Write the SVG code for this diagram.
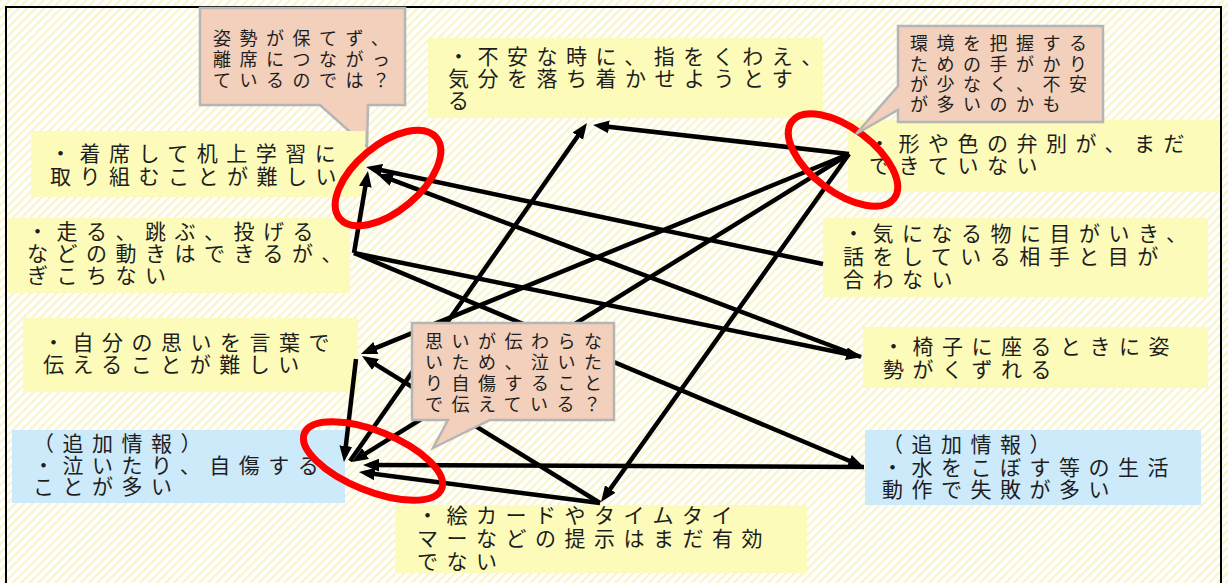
<svg xmlns="http://www.w3.org/2000/svg" width="1228" height="583" viewBox="0 0 1228 583">
<defs>
<pattern id="hatch" width="6" height="6" patternUnits="userSpaceOnUse" patternTransform="rotate(45)">
<rect width="6" height="6" fill="#ffffff"/>
<rect width="2.2" height="6" fill="#f9f4cb"/>
</pattern>
<marker id="ah" markerUnits="userSpaceOnUse" markerWidth="16" markerHeight="16" viewBox="0 0 10 8" refX="6" refY="4" orient="auto">
<path d="M0,0 L10,4 L0,8 Z" fill="#000"/>
</marker>
<style>
.y{fill:#fdfbb9;}
.b{fill:#cdeafb;}
.co{fill:#f2d0bb;stroke:#b5b5b5;stroke-width:2.5;stroke-linejoin:miter;}
.t{font-family:'Noto Sans CJK JP','Noto Sans CJK SC',sans-serif;font-size:21px;letter-spacing:8.5px;fill:#1e1e1e;}
.ct{font-family:'Noto Sans CJK JP','Noto Sans CJK SC',sans-serif;font-size:18px;letter-spacing:8.5px;fill:#1e1e1e;}
.ln{stroke:#000;stroke-width:4.5;fill:none;marker-end:url(#ah);}
.ring{fill:none;stroke:#ff0000;stroke-width:7;}
</style>
</defs>
<rect x="0" y="0" width="1228" height="583" fill="url(#hatch)"/>
<rect x="6" y="7" width="1215" height="600" fill="none" stroke="#000" stroke-width="2"/>

<g id="callout-posture">
<path class="co" d="M200,8 H405 V105 H368 L367,147 L320,105 H200 Z"/>
<text class="ct" x="213"><tspan x="213" y="45">姿勢が保てず、</tspan><tspan x="213" y="66">離席につながっ</tspan><tspan x="213" y="87">ているのでは？</tspan></text>
</g>

<g id="node-seat">
<rect class="y" x="31" y="131" width="334" height="66"/>
<text class="t"><tspan x="50" y="161">・着席して机上学習に</tspan><tspan x="50" y="184">取り組むことが難しい</tspan></text>
</g>
<g id="node-motion">
<rect class="y" x="8" y="218" width="342" height="75"/>
<text class="t"><tspan x="27" y="239">・走る、跳ぶ、投げる</tspan><tspan x="27" y="261">などの動きはできるが、</tspan><tspan x="27" y="283">ぎこちない</tspan></text>
</g>
<g id="node-anxiety">
<rect class="y" x="428" y="38" width="395" height="80"/>
<text class="t"><tspan x="448" y="64">・不安な時に、指をくわえ、</tspan><tspan x="448" y="86">気分を落ち着かせようとす</tspan><tspan x="448" y="108">る</tspan></text>
</g>
<g id="node-shape">
<rect class="y" x="848" y="120" width="372" height="72"/>
<text class="t"><tspan x="869" y="151">・形や色の弁別が、まだ</tspan><tspan x="869" y="173">できていない</tspan></text>
</g>
<g id="node-attention">
<rect class="y" x="823" y="218" width="385" height="79"/>
<text class="t"><tspan x="843" y="241">・気になる物に目がいき、</tspan><tspan x="843" y="264">話をしている相手と目が</tspan><tspan x="843" y="287">合わない</tspan></text>
</g>
<g id="node-words">
<rect class="y" x="23" y="318" width="335" height="74"/>
<text class="t"><tspan x="43" y="350">・自分の思いを言葉で</tspan><tspan x="43" y="372">伝えることが難しい</tspan></text>
</g>
<g id="node-crying">
<rect class="b" x="12" y="430" width="333" height="73"/>
<text class="t"><tspan x="33" y="451">（追加情報）</tspan><tspan x="33" y="473">・泣いたり、自傷する</tspan><tspan x="33" y="494">ことが多い</tspan></text>
</g>
<g id="node-chair">
<rect class="y" x="863" y="327" width="345" height="61"/>
<text class="t"><tspan x="883" y="354">・椅子に座るときに姿</tspan><tspan x="883" y="377">勢がくずれる</tspan></text>
</g>
<g id="node-water">
<rect class="b" x="865" y="430" width="336" height="75"/>
<text class="t"><tspan x="882" y="452">（追加情報）</tspan><tspan x="882" y="475">・水をこぼす等の生活</tspan><tspan x="882" y="497">動作で失敗が多い</tspan></text>
</g>
<g id="node-cards">
<rect class="y" x="395" y="505" width="412" height="68"/>
<text class="t"><tspan x="417" y="523">・絵カードやタイムタイ</tspan><tspan x="417" y="546">マーなどの提示はまだ有効</tspan><tspan x="417" y="569">でない</tspan></text>
</g>

<g id="connectors">
<line class="ln" x1="823" y1="264" x2="372.3" y2="168.3"/>
<line class="ln" x1="861" y1="357" x2="383" y2="176.3"/>
<line class="ln" x1="354" y1="253" x2="366.9" y2="177.3"/>
<line class="ln" x1="354" y1="253" x2="855.7" y2="355.7"/>
<line class="ln" x1="354" y1="253" x2="858.1" y2="464.5"/>
<line class="ln" x1="849" y1="154" x2="599.4" y2="125.7"/>
<line class="ln" x1="350" y1="461" x2="583.3" y2="128.2"/>
<line class="ln" x1="849" y1="154" x2="366.9" y2="351.6"/>
<line class="ln" x1="849" y1="154" x2="357.4" y2="458.6"/>
<line class="ln" x1="849" y1="154" x2="604.7" y2="496.8"/>
<line class="ln" x1="600" y1="503" x2="367.4" y2="359.4"/>
<line class="ln" x1="600" y1="503" x2="365.3" y2="472.8"/>
<line class="ln" x1="356" y1="359" x2="344.7" y2="455.6"/>
<line class="ln" x1="864" y1="467" x2="369.4" y2="465"/>
</g>

<g id="callout-communication">
<path class="co" d="M412,323 H614 V420 H490 L433,448 L448,420 H412 Z"/>
<text class="ct"><tspan x="425" y="348">思いが伝わらな</tspan><tspan x="425" y="369">いため、泣いた</tspan><tspan x="425" y="390">り自傷すること</tspan><tspan x="425" y="411">で伝えている？</tspan></text>
</g>

<g id="highlights">
<ellipse class="ring" cx="388" cy="178" rx="63" ry="33" transform="rotate(-40 388 178)"/>
<ellipse class="ring" cx="843" cy="160" rx="64" ry="32" transform="rotate(37 843 160)"/>
<ellipse class="ring" cx="373" cy="461" rx="74" ry="30" transform="rotate(22 373 461)"/>
</g>

<g id="callout-environment">
<path class="co" d="M898,26 H1103 V122 H898 V110 L856,134 L898,86 Z"/>
<text class="ct"><tspan x="910" y="50">環境を把握する</tspan><tspan x="910" y="71">ための手がかり</tspan><tspan x="910" y="91">が少なく、不安</tspan><tspan x="910" y="111">が多いのかも</tspan></text>
</g>
</svg>
